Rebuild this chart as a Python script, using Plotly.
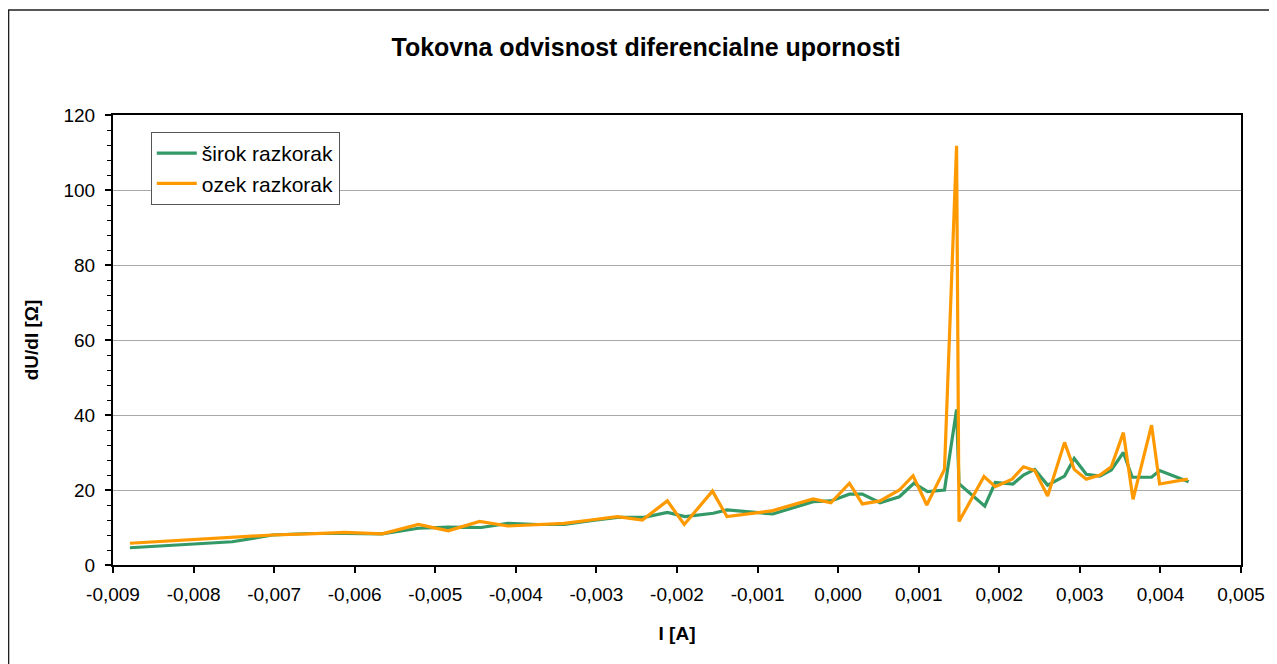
import plotly.graph_objects as go

# Data
I_sirok = [-0.00879, -0.00752, -0.00702, -0.00657, -0.00612, -0.00566, -0.00521, -0.00484, -0.00443, -0.00410,
           -0.00373, -0.00340, -0.00307, -0.00274, -0.00241, -0.00212, -0.00190, -0.00155, -0.00138, -0.00081,
           -0.00031, -0.00009, 0.00014, 0.00030, 0.00052, 0.00076, 0.00094, 0.00111, 0.00132, 0.00147,
           0.00150, 0.00182, 0.00195, 0.00217, 0.00230, 0.00244, 0.00260, 0.00281, 0.00293, 0.00308,
           0.00325, 0.00339, 0.00354, 0.00365, 0.00389, 0.00399, 0.00435]
R_sirok = [4.6, 6.2, 8.0, 8.4, 8.4, 8.3, 9.8, 10.1, 10.0, 11.1,
           10.8, 10.8, 11.8, 12.7, 12.7, 14.0, 12.9, 13.8, 14.7, 13.6,
           16.9, 17.1, 18.9, 18.9, 16.6, 18.2, 21.8, 19.6, 20.0, 41.5,
           21.7, 15.7, 22.0, 21.6, 24.0, 25.5, 21.3, 23.7, 28.4, 24.2,
           23.7, 25.3, 30.0, 23.4, 23.4, 25.2, 22.2]

I_ozek = [-0.00879, -0.00752, -0.00702, -0.00657, -0.00612, -0.00566, -0.00521, -0.00484, -0.00445, -0.00410,
          -0.00373, -0.00340, -0.00307, -0.00274, -0.00243, -0.00212, -0.00191, -0.00156, -0.00138, -0.00081,
          -0.00031, -0.00009, 0.00014, 0.00030, 0.00052, 0.00076, 0.00093, 0.00110, 0.00132, 0.00147,
          0.00150, 0.00181, 0.00195, 0.00216, 0.00230, 0.00244, 0.00260, 0.00281, 0.00293, 0.00308,
          0.00325, 0.00339, 0.00354, 0.00366, 0.00389, 0.00399, 0.00434]
R_ozek = [5.8, 7.5, 8.0, 8.3, 8.7, 8.3, 10.8, 9.1, 11.6, 10.4,
          10.8, 11.1, 12.0, 12.9, 12.0, 17.1, 10.8, 19.7, 12.9, 14.5,
          17.6, 16.6, 21.8, 16.3, 17.1, 20.0, 23.8, 16.0, 25.5, 111.8,
          11.6, 23.6, 20.9, 22.9, 26.2, 25.2, 18.4, 32.7, 25.5, 22.9,
          24.0, 26.2, 35.3, 17.5, 37.3, 21.6, 22.9]

series_names = ["širok razkorak", "ozek razkorak"]
x_ticks = [-0.009, -0.008, -0.007, -0.006, -0.005, -0.004, -0.003, -0.002, -0.001,
           0.0, 0.001, 0.002, 0.003, 0.004, 0.005]
x_ticktext = [f"{v:.3f}".replace(".", ",") for v in x_ticks]
y_ticks = [0, 20, 40, 60, 80, 100, 120]

FONT = "Liberation Sans, Arial, sans-serif"
# page has an 8px body margin; figure placed so plot area matches reference
W, H = 1269, 656
L, R, T, B = 105, 30, 107, 99
pw, ph = W - L - R, H - T - B

fig = go.Figure()
fig.add_trace(go.Scatter(x=I_sirok, y=R_sirok, mode="lines", name=series_names[0],
                         line=dict(color="#339966", width=3.2)))
fig.add_trace(go.Scatter(x=I_ozek, y=R_ozek, mode="lines", name=series_names[1],
                         line=dict(color="#FF9900", width=3.2)))

# outer chart frame
fig.add_shape(type="rect", xref="paper", yref="paper",
              x0=(0 - L) / pw, x1=(W + 20 - L) / pw,
              y0=-(H + 20 - (T + ph)) / ph, y1=1 + (T - 2) / ph,
              line=dict(color="#202020", width=1.5), layer="below")

fig.update_layout(
    width=W, height=H,
    margin=dict(l=L, r=R, t=T, b=B),
    paper_bgcolor="white", plot_bgcolor="white",
    font=dict(family=FONT, size=19, color="black"),
    title=dict(text="<b>Tokovna odvisnost diferencialne upornosti</b>",
               x=(641 - L) / pw, xref="paper", xanchor="center",
               y=1 - 39 / H, yref="container", yanchor="middle",
               font=dict(family=FONT, size=25, color="black")),
    xaxis=dict(range=[-0.009, 0.005], tickvals=x_ticks, ticktext=x_ticktext,
               showgrid=False, zeroline=False,
               showline=True, linecolor="black", linewidth=2, mirror=True,
               ticks="outside", ticklen=6, tickwidth=1.5, tickcolor="black",
               ticklabelstandoff=5,
               title=dict(text="<b>I [A]</b>", font=dict(family=FONT, size=19), standoff=23)),
    yaxis=dict(range=[0, 120], tickvals=y_ticks, showgrid=True, gridcolor="#A8A8A8", gridwidth=1,
               zeroline=False,
               showline=True, linecolor="black", linewidth=2, mirror=True,
               ticks="outside", ticklen=6, tickwidth=1.5, tickcolor="black",
               ticklabelstandoff=6,
               minor=dict(dtick=4, ticks="outside", ticklen=4, tickwidth=1, tickcolor="black", showgrid=False),
               title=dict(text="<b>dU/dI [Ω]</b>", font=dict(family=FONT, size=19), standoff=20)),
    legend=dict(x=(143 - L) / pw, y=1 - (124 - T) / ph, xanchor="left", yanchor="top",
                bgcolor="white", bordercolor="#555555", borderwidth=1,
                itemwidth=40,
                font=dict(family=FONT, size=21), tracegroupgap=0),
    showlegend=True,
)

fig.write_html("out.html")
